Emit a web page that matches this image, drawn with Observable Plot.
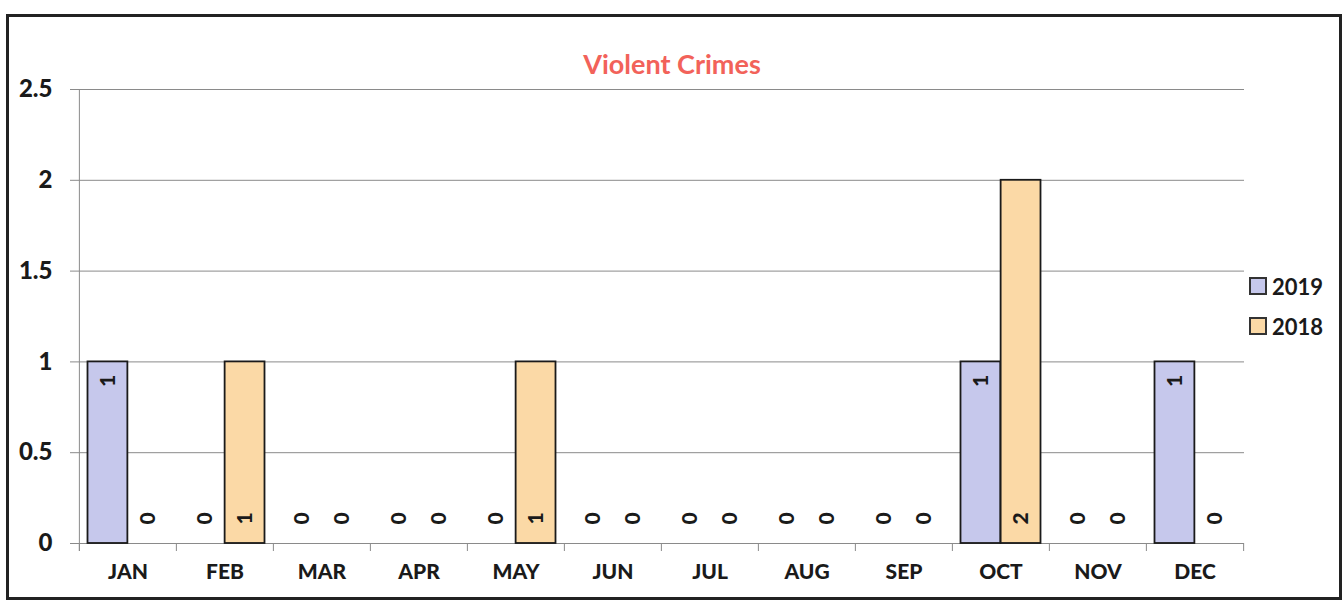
<!DOCTYPE html>
<html>
<head>
<meta charset="utf-8">
<script src="https://cdn.jsdelivr.net/npm/d3@7"></script>
<script src="https://cdn.jsdelivr.net/npm/@observablehq/plot@0.6"></script>
<style>
  html, body { margin: 0; padding: 0; background: #fff; }
  body { width: 1344px; height: 601px; position: relative; overflow: hidden; font-family: Lato, "Open Sans", sans-serif; }
  #border { position: absolute; left: 6px; top: 14px; width: 1330px; height: 580px; border: 3px solid #222; box-sizing: content-box; }
  #title { position: absolute; left: 0; width: 1344px; top: 47px; text-align: center; color: #f2625a; font-weight: 700; font-size: 27px; }
  #chart { position: absolute; left: 0; top: 0; }
  #legend { position: absolute; left: 1249px; top: 266px; font-weight: 700; font-size: 22px; color: #1a1a1a; }
  .item { display: flex; align-items: center; height: 40px; }
  .sw { width: 14px; height: 14px; border: 2px solid #333; margin-right: 5px; }
</style>
</head>
<body>
<div id="border"></div>
<div id="chart"></div>
<div id="title">Violent Crimes</div>
<div id="legend"></div>
<script>
const months = ["JAN","FEB","MAR","APR","MAY","JUN","JUL","AUG","SEP","OCT","NOV","DEC"];
const years = ["2019","2018"];
const values2019 = [1,0,0,0,0,0,0,0,0,1,0,1];
const values2018 = [0,1,0,0,1,0,0,0,0,2,0,0];
const yTicks = [0,0.5,1,1.5,2,2.5];
const colors = {"2019": "#c6c8ec", "2018": "#fbd9a6"};

const data = [];
months.forEach((m, i) => {
  data.push({month: m, year: "2019", value: values2019[i]});
  data.push({month: m, year: "2018", value: values2018[i]});
});

const W = 1344, H = 601;
const ml = 77, mr = 100, mt = 89, mb = 58;
const bw = (W - ml - mr) / months.length;
const pad = 8.5;
const half = (bw - 2 * pad) / 2;
const plotH = H - mt - mb;

const d19 = data.filter(d => d.year === "2019");
const d18 = data.filter(d => d.year === "2018");
// label placement: 2019 nonzero at inside end, all others near base
const endLabels = data.filter(d => d.year === "2019" && d.value > 0);
const baseLabels = data.filter(d => !(d.year === "2019" && d.value > 0));
const font = "Lato, 'Open Sans', sans-serif";

const chart = Plot.plot({
  width: W, height: H,
  marginLeft: ml, marginRight: mr, marginTop: mt, marginBottom: mb,
  style: {fontFamily: font, background: "transparent"},
  x: {type: "band", domain: months, padding: 0},
  y: {domain: [0, 2.5]},
  color: {domain: years, range: years.map(y => colors[y])},
  marks: [
    Plot.gridY(yTicks, {stroke: "#8a8a8a", strokeOpacity: 1, strokeWidth: 1, insetLeft: -7}),
    Plot.ruleX(["JAN"], {x: d => d, dx: -bw / 2, stroke: "#8a8a8a", insetBottom: -8}),
    Plot.ruleX(months, {x: d => d, dx: -bw / 2, stroke: "#8a8a8a", insetTop: plotH, insetBottom: -8}),
    Plot.ruleX(["DEC"], {x: d => d, dx: bw / 2, stroke: "#8a8a8a", insetTop: plotH, insetBottom: -8}),
    Plot.ruleY([0], {stroke: "#8a8a8a", strokeWidth: 1.2}),
    Plot.barY(d19.filter(d => d.value > 0), {x: "month", y: "value", fill: "year", stroke: "#1a1a1a", strokeWidth: 1.8, insetLeft: pad, insetRight: pad + half}),
    Plot.barY(d18.filter(d => d.value > 0), {x: "month", y: "value", fill: "year", stroke: "#1a1a1a", strokeWidth: 1.8, insetLeft: pad + half, insetRight: pad}),
    Plot.text(endLabels, {x: "month", y: "value", text: d => String(d.value), rotate: -90, dx: -half / 2, dy: 19, fontSize: 21, fontWeight: 900, fill: "#1a1a1a"}),
    Plot.text(baseLabels.filter(d => d.year === "2019"), {x: "month", y: 0, text: d => String(d.value), rotate: -90, dx: -half / 2, dy: -25, fontSize: 21, fontWeight: 900, fill: "#1a1a1a"}),
    Plot.text(baseLabels.filter(d => d.year === "2018"), {x: "month", y: 0, text: d => String(d.value), rotate: -90, dx: half / 2, dy: -25, fontSize: 21, fontWeight: 900, fill: "#1a1a1a"}),
    Plot.axisY({ticks: yTicks, tickFormat: d => String(d), tickSize: 0, tickPadding: 25, fontSize: 24, fontWeight: 900, fill: "#1a1a1a", label: null}),
    Plot.axisX({tickSize: 0, tickPadding: 21, fontSize: 21, fontWeight: 900, fill: "#1a1a1a", label: null})
  ]
});
document.getElementById("chart").appendChild(chart);

const legend = document.getElementById("legend");
years.forEach(y => {
  const it = document.createElement("div");
  it.className = "item";
  const sw = document.createElement("div");
  sw.className = "sw";
  sw.style.background = colors[y];
  const t = document.createElement("span");
  t.textContent = y;
  it.appendChild(sw); it.appendChild(t);
  legend.appendChild(it);
});
</script>
</body>
</html>
